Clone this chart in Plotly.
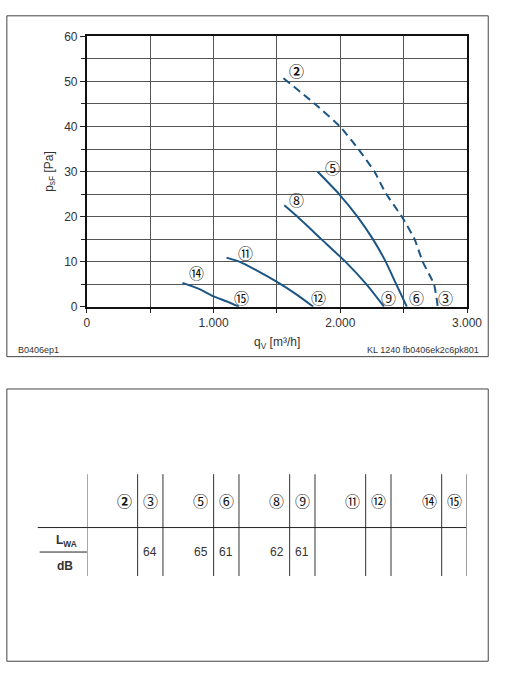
import plotly.graph_objects as go

# fan curves: volume flow q_V [m3/h] vs static pressure p_sF [Pa]
curve_2_q = [1551, 1800, 1997, 2142, 2269, 2358, 2485, 2586, 2650, 2739, 2769]
curve_2_p = [50.7, 45.0, 40.0, 35.0, 30.0, 25.2, 20.0, 15.0, 10.0, 5.0, 0.0]
curve_5_q = [1820, 1990, 2135, 2257, 2358, 2441, 2525]
curve_5_p = [30.0, 25.0, 20.0, 15.0, 10.0, 5.0, 0.0]
curve_8_q = [1558, 1660, 1850, 2040, 2205, 2345]
curve_8_p = [22.5, 20.0, 15.0, 10.0, 5.0, 0.0]
curve_11_q = [1102, 1203, 1350, 1500, 1650, 1787]
curve_11_p = [10.9, 10.0, 7.9, 5.5, 2.8, 0.0]
curve_14_q = [754, 880, 1000, 1100, 1200]
curve_14_p = [5.3, 4.0, 2.3, 1.2, 0.0]

# circled operating-point labels in the chart
point_labels = ["②", "⑤", "⑧", "⑪", "⑭", "③", "⑥", "⑨", "⑫", "⑮"]
point_q = [1652, 1939, 1652, 1254, 868, 2827, 2604, 2378, 1825, 1220]
point_p = [52.4, 30.9, 23.8, 12.0, 7.5, 2.1, 2.1, 2.1, 2.1, 2.1]

x_tickvals = [0, 1000, 2000, 3000]
x_ticktext = ["0", "1.000", "2.000", "3.000"]
y_tickvals = [0, 10, 20, 30, 40, 50, 60]

# sound power table
table_labels = ["②", "③", "⑤", "⑥", "⑧", "⑨", "⑪", "⑫", "⑭", "⑮"]
table_lwa = [None, 64, 65, 61, 62, 61, None, None, None, None]
table_col_width = [400, 200, 400, 200, 400, 200, 400, 200, 400, 200]

W, H = 510, 680
CURVE = "#1c5684"
GRID = "#555555"
TXT = "#333333"
CIRC_FONT = "Noto Sans CJK JP"


def px(x):
    return x / W


def py(y):
    return 1 - y / H


def note(x, y, text, size=12, xanchor="center", **kw):
    fig.add_annotation(x=px(x), y=py(y), xref="paper", yref="paper", showarrow=False,
                       xanchor=xanchor, yanchor="middle", text=text,
                       font=dict(family="Liberation Sans", size=size, color=TXT), **kw)


fig = go.Figure()

for q, p, dash in [
    (curve_2_q, curve_2_p, "8px,5px"),
    (curve_5_q, curve_5_p, "solid"),
    (curve_8_q, curve_8_p, "solid"),
    (curve_11_q, curve_11_p, "solid"),
    (curve_14_q, curve_14_p, "solid"),
]:
    fig.add_trace(
        go.Scatter(
            x=q, y=p, mode="lines",
            line=dict(color=CURVE, width=2, dash=dash, shape="spline", smoothing=0.5),
            showlegend=False, hoverinfo="skip", xaxis="x", yaxis="y",
        )
    )

for lab, q, p in zip(point_labels, point_q, point_p):
    fig.add_annotation(
        x=q, y=p, xref="x", yref="y", showarrow=False,
        xanchor="center", yanchor="middle",
        text=f"<b>{lab}</b>" if lab == "②" else lab,
        font=dict(family=CIRC_FONT, size=15, color="#111111"),
    )

# table: column boundaries on the same q scale as the chart
bounds = [0]
for w in table_col_width:
    bounds.append(bounds[-1] + w)

shapes = []
for b in bounds:
    shapes.append(dict(type="line", xref="x2", yref="paper", x0=b, x1=b,
                       y0=py(477), y1=py(581), line=dict(color="#333333", width=1)))
shapes.append(dict(type="line", xref="paper", yref="paper", x0=px(36), x1=px(480),
                   y0=py(531.5), y1=py(531.5), line=dict(color="#222222", width=1)))
shapes.append(dict(type="line", xref="paper", yref="paper", x0=px(38), x1=px(87),
                   y0=py(556.5), y1=py(556.5), line=dict(color="#222222", width=1)))
# frames
shapes.append(dict(type="rect", xref="paper", yref="paper", x0=px(4), x1=px(503),
                   y0=py(9), y1=py(357), line=dict(color="#444444", width=1)))
shapes.append(dict(type="rect", xref="paper", yref="paper", x0=px(4), x1=px(503),
                   y0=py(390), y1=py(668), line=dict(color="#444444", width=1)))

for i, lab in enumerate(table_labels):
    xc = bounds[i + 1] - 100
    fig.add_annotation(
        x=xc, y=py(503.5), xref="x2", yref="paper", showarrow=False,
        xanchor="center", yanchor="middle",
        text=f"<b>{lab}</b>" if lab == "②" else lab,
        font=dict(family=CIRC_FONT, size=15, color="#111111"),
    )
    if table_lwa[i] is not None:
        fig.add_annotation(
            x=xc, y=py(556), xref="x2", yref="paper", showarrow=False,
            xanchor="center", yanchor="middle",
            text=str(table_lwa[i]),
            font=dict(family="Liberation Sans", size=12, color=TXT),
        )

note(66, 545, "<b>L<sub>WA</sub></b>")
note(64, 570.5, "<b>dB</b>")

# axis titles and footer texts
note(48, 168, "p<sub>sF</sub> [Pa]", textangle=-90)
note(284, 343, "q<sub>V</sub> [m³/h]")
note(13, 350.5, "B0406ep1", size=9, xanchor="left")
note(496, 350.5, "KL 1240 fb0406ek2c6pk801", size=9, xanchor="right")

fig.update_layout(
    autosize=True,
    margin=dict(l=0, r=0, t=0, b=0),
    paper_bgcolor="white", plot_bgcolor="white",
    showlegend=False,
    shapes=shapes,
    xaxis=dict(
        domain=[px(87), px(481)], range=[0, 3000], anchor="y",
        tickvals=x_tickvals, ticktext=x_ticktext,
        ticks="outside", ticklen=4, tickcolor="#222222",
        showgrid=True, gridcolor=GRID, gridwidth=1,
        minor=dict(dtick=500, showgrid=True, gridcolor=GRID, ticks="outside",
                   ticklen=4, tickcolor="#222222"),
        showline=True, linecolor="#111111", linewidth=2, mirror=True,
        zeroline=False,
        tickfont=dict(family="Liberation Sans", size=12, color=TXT),
    ),
    yaxis=dict(
        domain=[py(306), py(30)], range=[0, 60], anchor="x",
        tickvals=y_tickvals,
        ticks="outside", ticklen=5, tickcolor="#222222",
        showgrid=True, gridcolor=GRID, gridwidth=1,
        minor=dict(dtick=5, showgrid=True, gridcolor=GRID, ticks="outside",
                   ticklen=4, tickcolor="#222222"),
        showline=True, linecolor="#111111", linewidth=2, mirror=True,
        zeroline=False,
        tickfont=dict(family="Liberation Sans", size=12, color=TXT),
    ),
    xaxis2=dict(domain=[px(87), px(481)], range=[0, 3000], anchor="y2", visible=False),
    yaxis2=dict(domain=[py(581), py(477)], range=[0, 1], anchor="x2", visible=False),
)

# the figure fills the whole window, pinned to its top-left corner
fig.write_html(
    "out.html",
    config={"displayModeBar": False, "responsive": True},
    default_width="100vw",
    default_height="100vh",
    post_script=(
        "document.body.style.margin='0';"
        "document.body.style.overflow='hidden';"
        "document.documentElement.style.overflow='hidden';"
        "var d=document.getElementById('{plot_id}');"
        "d.style.position='fixed';d.style.left='0';d.style.top='0';"
        "Plotly.Plots.resize(d);"
    ),
)
